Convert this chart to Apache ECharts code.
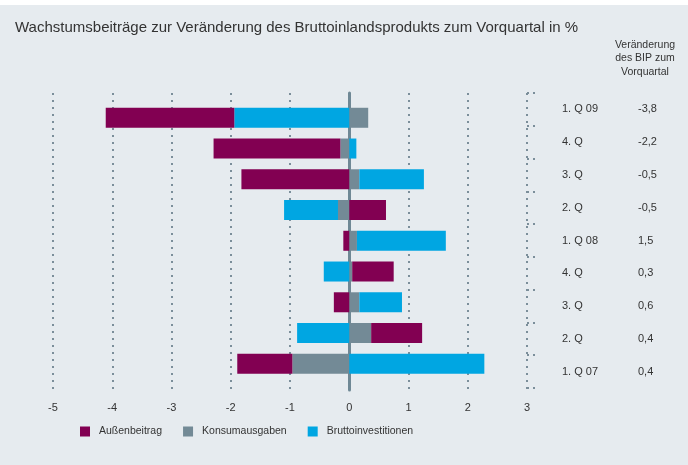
<!DOCTYPE html>
<html>
<head>
<meta charset="utf-8">
<script src="https://cdn.jsdelivr.net/npm/echarts@6/dist/echarts.min.js"></script>
<style>
html,body{margin:0;padding:0;background:#fff;}
#chart{width:688px;height:465px;background:linear-gradient(to bottom,#ffffff 0px,#ffffff 5px,#e6ebef 5px,#e6ebef 100%);}
</style>
</head>
<body>
<div id="chart"></div>
<script>
// Quarters, top to bottom
const quarterLabels = ['1. Q 09','4. Q','3. Q','2. Q','1. Q 08','4. Q','3. Q','2. Q','1. Q 07'];
// Contributions in percentage points
const konsumausgaben = [0.32, -0.15, 0.17, -0.19, 0.13, 0.05, 0.17, 0.37, -0.96];
const bruttoinvestitionen = [-1.94, 0.12, 1.09, -0.91, 1.50, -0.43, 0.72, -0.88, 2.28];
const aussenbeitrag = [-2.17, -2.14, -1.82, 0.62, -0.10, 0.70, -0.26, 0.86, -0.93];
// BIP change column
const bipChange = ['-3,8','-2,2','-0,5','-0,5','1,5','0,3','0,6','0,4','0,4'];
// x axis ticks
const xMin = -5, xMax = 3, xStep = 1;

const FONT = '"Liberation Sans", Arial, Helvetica, sans-serif';
const TXT = '#333333';
const DOT = '#7b8e9a';
const idx = quarterLabels.map((_, i) => String(i));

const chart = echarts.init(document.getElementById('chart'));
chart.setOption({
  animation: false,
  textStyle: { fontFamily: FONT },
  title: {
    text: 'Wachstumsbeiträge zur Veränderung des Bruttoinlandsprodukts zum Vorquartal in %',
    left: 15, top: 20, padding: 0,
    textStyle: { fontFamily: FONT, fontSize: 15, fontWeight: 'normal', color: TXT, lineHeight: 16 }
  },
  graphic: [{
    type: 'text', x: 645, y: 38,
    style: {
      text: 'Veränderung\ndes BIP zum\nVorquartal',
      fontFamily: FONT, fontSize: 10.5, lineHeight: 13.5, fill: TXT,
      textAlign: 'center'
    }
  }],
  legend: {
    data: ['Außenbeitrag','Konsumausgaben','Bruttoinvestitionen'],
    left: 80, top: 426, icon: 'rect', itemWidth: 10, itemHeight: 10, itemGap: 21,
    padding: 0,
    textStyle: { fontFamily: FONT, fontSize: 10.5, color: TXT, padding: [0,0,0,4] }
  },
  grid: [
    { left: 53, width: 474, top: 102.4, height: 276.75 },
    { left: 53, width: 474, top: 93, height: 297 },
    { left: 527, width: 1, top: 93, height: 295 }
  ],
  xAxis: [
    { gridIndex: 0, type: 'value', min: xMin, max: xMax, interval: xStep, show: false },
    { gridIndex: 1, type: 'value', min: xMin, max: xMax, interval: xStep,
      axisLine: { show: false }, axisTick: { show: false },
      axisLabel: { color: TXT, fontSize: 11, margin: 12, fontFamily: FONT },
      splitLine: { show: true, lineStyle: { color: DOT, width: 2, type: [2,5] } } },
    { gridIndex: 2, type: 'value', show: false }
  ],
  yAxis: [
    { gridIndex: 0, type: 'category', data: idx, inverse: true, show: false },
    { gridIndex: 1, type: 'value', min: 0, max: 1,
      axisLine: { show: true, onZero: true, lineStyle: { color: '#6f8895', width: 3 } },
      axisTick: { show: false }, axisLabel: { show: false }, splitLine: { show: false } },
    { gridIndex: 2, type: 'category', data: idx, inverse: true, position: 'left',
      axisLine: { show: false },
      axisTick: { show: true, inside: true, length: 9, lineStyle: { color: DOT, width: 2, type: [2,4] } },
      axisLabel: { inside: true, margin: 35, align: 'left', color: TXT, fontSize: 11, fontFamily: FONT,
        formatter: (v, i) => quarterLabels[i] },
      splitLine: { show: false } },
    { gridIndex: 2, type: 'category', data: idx, inverse: true, position: 'left',
      axisLine: { show: false }, axisTick: { show: false },
      axisLabel: { inside: true, margin: 111, align: 'left', color: TXT, fontSize: 11, fontFamily: FONT,
        formatter: (v, i) => bipChange[i] },
      splitLine: { show: false } }
  ],
  series: [
    { name: 'Konsumausgaben', type: 'bar', stack: 'a', xAxisIndex: 0, yAxisIndex: 0,
      barWidth: 20, itemStyle: { color: '#738a96' }, data: konsumausgaben },
    { name: 'Bruttoinvestitionen', type: 'bar', stack: 'a', xAxisIndex: 0, yAxisIndex: 0,
      barWidth: 20, itemStyle: { color: '#00a6e2' }, data: bruttoinvestitionen },
    { name: 'Außenbeitrag', type: 'bar', stack: 'a', xAxisIndex: 0, yAxisIndex: 0,
      barWidth: 20, itemStyle: { color: '#820052' }, data: aussenbeitrag }
  ]
});
</script>
</body>
</html>
